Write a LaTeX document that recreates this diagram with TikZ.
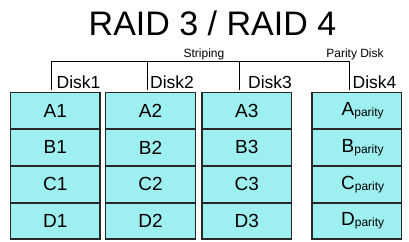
\documentclass[tikz,border=0pt]{standalone}
\usepackage{fontspec}
\setmainfont{Liberation Sans}
\usetikzlibrary{positioning}
\definecolor{cellcyan}{RGB}{158,240,240}
\definecolor{cellline}{RGB}{40,40,40}
\newcommand{\parsub}{\raisebox{-1pt}{\fontsize{12}{12}\selectfont parity}}

\begin{document}
\begin{tikzpicture}[x=1pt,y=-1pt,node distance=0pt,
    cell/.style={draw=cellline,line width=1.2pt,fill=cellcyan,minimum width=89.5pt,minimum height=35.7pt,inner sep=0pt,font=\fontsize{19}{20}\selectfont},
    disklbl/.style={anchor=base west,inner sep=0pt,font=\fontsize{17.5}{18}\selectfont},
    small/.style={anchor=base,inner sep=0pt,font=\fontsize{12}{12}\selectfont}]
    \useasboundingbox (0,0) rectangle (409,241);
    \node[anchor=base,inner sep=0pt,font=\fontsize{34}{35}\selectfont] (title) at (212.5,35) {RAID 3 / RAID 4};
    % disk 1
    \node[cell] (a1) at (55.3,110.5) {A1};
    \node[cell,below=of a1] (b1) {B1};
    \node[cell,below=of b1] (c1) {C1};
    \node[cell,below=of c1] (d1) {D1};
    % disk 2
    \node[cell] (a2) at (150.5,110.5) {A2};
    \node[cell,below=of a2] (b2) {B2};
    \node[cell,below=of b2] (c2) {C2};
    \node[cell,below=of c2] (d2) {D2};
    % disk 3
    \node[cell] (a3) at (246.8,110.5) {A3};
    \node[cell,below=of a3] (b3) {B3};
    \node[cell,below=of b3] (c3) {C3};
    \node[cell,below=of c3] (d3) {D3};
    % parity disk
    \node[cell] (ap) at (356.7,110.5) {\hspace*{12pt}A\parsub};
    \node[cell,below=of ap] (bp) {\hspace*{12pt}B\parsub};
    \node[cell,below=of bp] (cp) {\hspace*{12pt}C\parsub};
    \node[cell,below=of cp] (dp) {\hspace*{12pt}D\parsub};
    % labels
    \node[disklbl] (l1) at (56.5,88) {Disk1};
    \node[disklbl] (l2) at (150,88) {Disk2};
    \node[disklbl] (l3) at (248,88) {Disk3};
    \node[disklbl] (l4) at (352.5,88) {Disk4};
    \node[small] (strip) at (204,57) {Striping};
    \node[small] (pdisk) at (355,57) {Parity Disk};
    % bracket
    \coordinate (t1) at (51.7,61.7);
    \coordinate (t2) at (147,61.7);
    \coordinate (t3) at (239.3,61.7);
    \coordinate (t4) at (349,61.7);
    \coordinate (e1) at (51.7,90);
    \coordinate (e2) at (147,90);
    \coordinate (e3) at (239.3,90);
    \coordinate (e4) at (349,90);
    \draw[line width=0.9pt] (e1) -- (t1) -- (t4) -- (e4);
    \draw[line width=0.9pt] (t2) -- (e2);
    \draw[line width=0.9pt] (t3) -- (e3);
  \end{tikzpicture}
\end{document}
